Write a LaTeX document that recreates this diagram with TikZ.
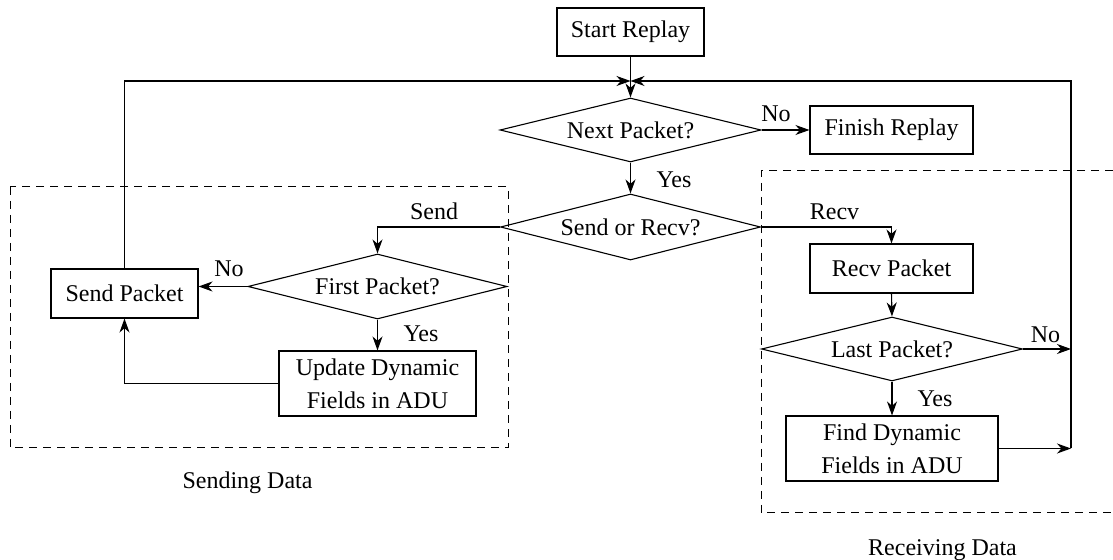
\documentclass[tikz,border=0pt]{standalone}
\usepackage{fontspec}
\setmainfont{Liberation Serif}
\usetikzlibrary{shapes.geometric,arrows.meta}

\tikzset{
  txt/.style={font=\fontsize{12}{16.5}\selectfont},
  procbox/.style={txt, draw, line width=0.55pt, align=center, inner sep=2pt},
  decision/.style={txt, draw, line width=0.55pt, diamond, aspect=4, inner sep=0pt},
  label/.style={txt, inner sep=0pt, anchor=base},
  flow/.style={line width=0.55pt, -{Stealth[length=7pt,width=5pt,inset=2.2pt]}},
  frame/.style={line width=0.5pt, dash pattern=on 4pt off 3pt},
}

\begin{document}
\begin{tikzpicture}[x=0.5pt,y=-0.5pt]
  \useasboundingbox (0,0) rectangle (1113,560);

  % dashed group outlines
  \draw[frame] (10,187) rectangle (508,448);
  \draw[frame] (1113,171) -- (761,171) -- (761,513) -- (1113,513);

  % main column
  \node[procbox, minimum width=73.5pt, minimum height=24pt] (start) at (630.5,32) {Start Replay};
  \node[decision, minimum width=130.5pt, minimum height=32pt] (next) at (630.5,130) {Next Packet?};
  \node[procbox, minimum width=81.5pt, minimum height=24pt] (finish) at (891.5,130) {Finish Replay};
  \node[decision, minimum width=130pt, minimum height=33pt] (sor) at (630.5,227) {Send or Recv?};

  % sending branch
  \node[decision, minimum width=129.5pt, minimum height=32.5pt] (fp) at (377.5,286.5) {First Packet?};
  \node[procbox, minimum width=73.5pt, minimum height=24.5pt] (sendpkt) at (124.5,293.5) {Send Packet};
  \node[procbox, minimum width=98.5pt, minimum height=32.5pt] (update) at (377.5,383.5) {Update Dynamic\\Fields in ADU};

  % receiving branch
  \node[procbox, minimum width=81.5pt, minimum height=24.5pt] (recvpkt) at (891.5,268.5) {Recv Packet};
  \node[decision, minimum width=130.5pt, minimum height=32pt] (lp) at (892,349) {Last Packet?};
  \node[procbox, minimum width=106pt, minimum height=32.5pt] (find) at (892,448.5) {Find Dynamic\\Fields in ADU};

  % loop-back points
  \coordinate (join) at (630.5,81);
  \coordinate (rail) at (1071,81);

  % connectors
  \draw[flow] (start.south) -- (next.north);
  \draw[flow] (next.east) -- (finish.west);
  \draw[flow] (next.south) -- (sor.north);

  \draw[flow] (sor.west) -- (fp.north |- sor.west) -- (fp.north);
  \draw[flow] (fp.west) -- (sendpkt.east |- fp.west);
  \draw[flow] (fp.south) -- (update.north);
  \draw[flow] (update.west) -- (sendpkt.south |- update.west) -- (sendpkt.south);
  \draw[flow] (sendpkt.north) -- (sendpkt.north |- join) -- (join);

  \draw[flow] (sor.east) -- (recvpkt.north |- sor.east) -- (recvpkt.north);
  \draw[flow] (recvpkt.south) -- (lp.north);
  \draw[flow] (lp.south) -- (find.north);
  \draw[flow] (lp.east) -- (lp.east -| rail);
  \draw[flow] (find.east) -- (find.east -| rail);
  \draw[flow] (find.east -| rail) -- (rail) -- (join);

  % branch labels
  \node[label] (l-no1) at (776,122) {No};
  \node[label] (l-yes1) at (674,188) {Yes};
  \node[label] (l-send) at (434,220) {Send};
  \node[label] (l-no2) at (229,277) {No};
  \node[label] (l-yes2) at (421,342) {Yes};
  \node[label] (l-recv) at (834.5,220) {Recv};
  \node[label] (l-no3) at (1045.5,343) {No};
  \node[label] (l-yes3) at (935,407) {Yes};

  % group captions
  \node[label] (cap-send) at (247.5,489) {Sending Data};
  \node[label] (cap-recv) at (942.5,555) {Receiving Data};
\end{tikzpicture}
\end{document}
